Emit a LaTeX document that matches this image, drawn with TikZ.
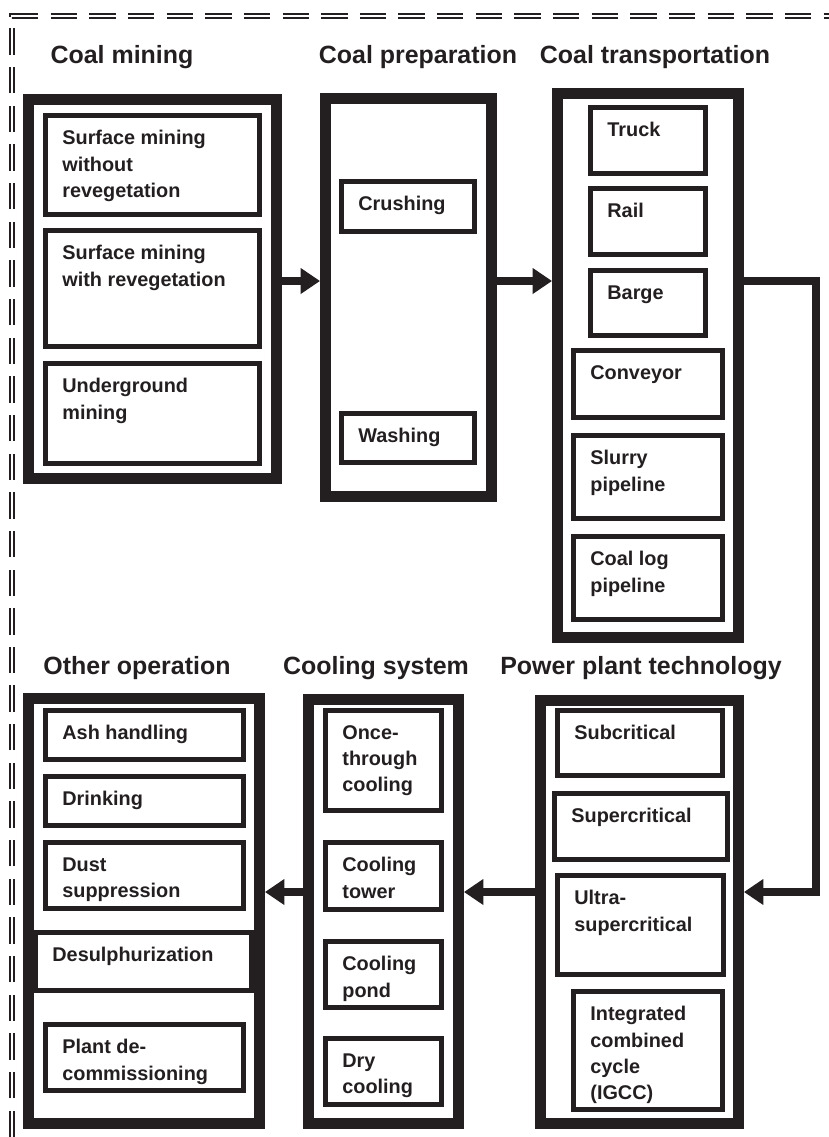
\documentclass[tikz,border=0pt]{standalone}
\usepackage{fontspec}
\setmainfont{Liberation Sans}
\usetikzlibrary{arrows.meta,fit}
\definecolor{ink}{HTML}{231F20}

\begin{document}
\begin{tikzpicture}[x=0.02cm,y=-0.02cm,line join=miter,
    >={Triangle[length=11pt,width=14pt]}]
  \tikzstyle{stage}=[draw=ink,line width=6.2pt,inner sep=0pt]
  \tikzstyle{item}=[draw=ink,line width=2.8pt,inner sep=0pt]
  \tikzstyle{itemtext}=[anchor=north west,inner sep=0pt,align=left,text=ink,
                        font=\fontsize{11.3}{15}\selectfont\bfseries,shift={(19,17)}]
  \tikzstyle{heading}=[anchor=base,inner sep=0pt,text=ink,
                       font=\fontsize{14.2}{17}\selectfont\bfseries]
  \tikzstyle{flow}=[->,draw=ink,line width=4.5pt]

  \useasboundingbox (0,0) rectangle (829,1137);

  % frame
  \draw[ink,line width=0.8pt,double=white,double distance=1.3pt,
        dash pattern=on 15pt off 7pt] (12,1137) -- (12,16) -- (829,16);

  % headings
  \node[heading] (hmining) at (122,63)  {Coal mining};
  \node[heading] (hprep)   at (418,63)  {Coal preparation};
  \node[heading] (htrans)  at (655,63)  {Coal transportation};
  \node[heading] (hother)  at (137,674) {Other operation};
  \node[heading] (hcool)   at (376,674) {Cooling system};
  \node[heading] (hplant)  at (641,674) {Power plant technology};

  % coal mining
  \node[item,fit={(45.5,115.5) (259.5,214.5)}] (smwo) {};
  \node[itemtext] (smwo-t) at (smwo.north west) {Surface mining\\without\\revegetation};
  \node[item,fit={(45.5,230.5) (259.5,346.5)}] (smw) {};
  \node[itemtext] (smw-t) at (smw.north west) {Surface mining\\with revegetation};
  \node[item,fit={(45.5,363.5) (259.5,463.5)}] (under) {};
  \node[itemtext] (under-t) at (under.north west) {Underground\\mining};
  \node[stage,fit={(28.5,99.5) (276.5,478.5)}] (mining) {};

  % coal preparation
  \node[item,fit={(341.5,181.5) (474.5,231.5)}] (crush) {};
  \node[itemtext] (crush-t) at (crush.north west) {Crushing};
  \node[item,fit={(341.5,413.5) (474.5,462.5)}] (wash) {};
  \node[itemtext] (wash-t) at (wash.north west) {Washing};
  \node[stage,fit={(325.5,98.5) (491.5,496.5)}] (prep) {};

  % coal transportation
  \node[item,fit={(590.5,107.5) (705.5,173.5)}] (truck) {};
  \node[itemtext] (truck-t) at (truck.north west) {Truck};
  \node[item,fit={(590.5,188.5) (705.5,254.5)}] (rail) {};
  \node[itemtext] (rail-t) at (rail.north west) {Rail};
  \node[item,fit={(590.5,270.5) (705.5,335.5)}] (barge) {};
  \node[itemtext] (barge-t) at (barge.north west) {Barge};
  \node[item,fit={(573.5,350.5) (722.5,417.5)}] (conv) {};
  \node[itemtext] (conv-t) at (conv.north west) {Conveyor};
  \node[item,fit={(573.5,435.5) (722.5,518.5)}] (slurry) {};
  \node[itemtext] (slurry-t) at (slurry.north west) {Slurry\\pipeline};
  \node[item,fit={(573.5,536.5) (722.5,619.5)}] (clog) {};
  \node[itemtext] (clog-t) at (clog.north west) {Coal log\\pipeline};
  \node[stage,fit={(557.5,93.5) (738.5,637.5)}] (trans) {};

  % power plant technology
  \node[item,fit={(557.5,710.5) (722.5,775.5)}] (subc) {};
  \node[itemtext] (subc-t) at (subc.north west) {Subcritical};
  \node[item,fit={(554.5,793.5) (727.5,859.5)}] (superc) {};
  \node[itemtext] (superc-t) at (superc.north west) {Supercritical};
  \node[item,fit={(557.5,875.5) (723.5,974.5)}] (ultra) {};
  \node[itemtext] (ultra-t) at (ultra.north west) {Ultra-\\supercritical};
  \node[item,fit={(573.5,991.5) (722.5,1109.5)}] (igcc) {};
  \node[itemtext] (igcc-t) at (igcc.north west) {Integrated\\combined\\cycle\\(IGCC)};
  \node[stage,fit={(540.5,700.5) (738.5,1123.5)}] (plant) {};

  % cooling system
  \node[item,fit={(325.5,710.5) (441.5,810.5)}] (once) {};
  \node[itemtext] (once-t) at (once.north west) {Once-\\through\\cooling};
  \node[item,fit={(325.5,842.5) (441.5,909.5)}] (tower) {};
  \node[itemtext] (tower-t) at (tower.north west) {Cooling\\tower};
  \node[item,fit={(325.5,941.5) (441.5,1007.5)}] (pond) {};
  \node[itemtext] (pond-t) at (pond.north west) {Cooling\\pond};
  \node[item,fit={(325.5,1038.5) (441.5,1104.5)}] (dry) {};
  \node[itemtext] (dry-t) at (dry.north west) {Dry\\cooling};
  \node[stage,fit={(308.5,699.5) (458.5,1123.5)}] (cool) {};

  % other operation
  \node[item,fit={(45.5,710.5) (243.5,759.5)}] (ash) {};
  \node[itemtext] (ash-t) at (ash.north west) {Ash handling};
  \node[item,fit={(45.5,776.5) (243.5,825.5)}] (drink) {};
  \node[itemtext] (drink-t) at (drink.north west) {Drinking};
  \node[item,fit={(45.5,842.5) (243.5,908.5)}] (dust) {};
  \node[itemtext] (dust-t) at (dust.north west) {Dust\\suppression};
  \node[item,fit={(35.5,932.5) (251.5,990.5)}] (desul) {};
  \node[itemtext] (desul-t) at (desul.north west) {Desulphurization};
  \node[item,fit={(45.5,1024.5) (243.5,1090.5)}] (decom) {};
  \node[itemtext] (decom-t) at (decom.north west) {Plant de-\\commissioning};
  \node[stage,fit={(28.5,698.5) (259.5,1123.5)}] (other) {};

  % flow between stages
  \coordinate (upper) at (0,281);
  \coordinate (lower) at (0,892);
  \coordinate (turn)  at (816,0);
  \draw[flow] (mining.east |- upper) -- (prep.west |- upper);
  \draw[flow] (prep.east |- upper) -- (trans.west |- upper);
  \draw[flow] (trans.east |- upper) -| (turn |- lower) -- (plant.east |- lower);
  \draw[flow] (plant.west |- lower) -- (cool.east |- lower);
  \draw[flow] (cool.west |- lower) -- (other.east |- lower);
\end{tikzpicture}
\end{document}
